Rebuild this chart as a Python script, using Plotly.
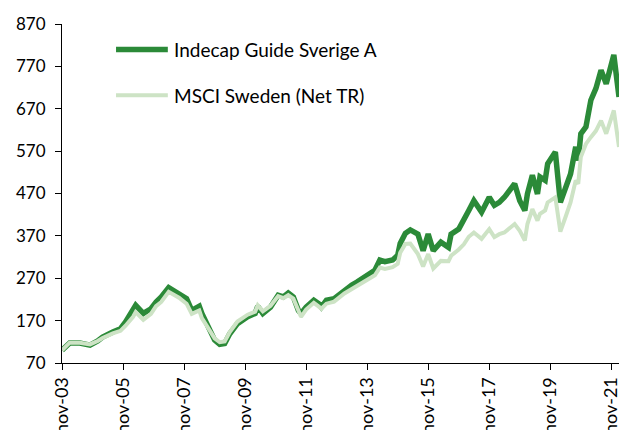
import plotly.graph_objects as go

dates = [
    "2003-11", "2004-02", "2004-06", "2004-10", "2005-01", "2005-03", "2005-07", "2005-10",
    "2005-12", "2006-03", "2006-04", "2006-07", "2006-10", "2006-12", "2007-02", "2007-05",
    "2007-09", "2007-12", "2008-02", "2008-05", "2008-06", "2008-08", "2008-11", "2009-01",
    "2009-03", "2009-05", "2009-08", "2009-12", "2010-03", "2010-04", "2010-06", "2010-09",
    "2010-12", "2011-02", "2011-04", "2011-06", "2011-08", "2011-09", "2011-11", "2012-02",
    "2012-04", "2012-05", "2012-07", "2012-10", "2013-02", "2013-05", "2013-07", "2013-09",
    "2013-12", "2014-02", "2014-04", "2014-06", "2014-09", "2014-11", "2014-12", "2015-02",
    "2015-04", "2015-07", "2015-09", "2015-11", "2016-01", "2016-04", "2016-07", "2016-08",
    "2016-11", "2017-01", "2017-03", "2017-05", "2017-08", "2017-11", "2018-01", "2018-03",
    "2018-05", "2018-09", "2018-11", "2019-01", "2019-02", "2019-04", "2019-06", "2019-07",
    "2019-09", "2019-10", "2020-01", "2020-03", "2020-05", "2020-07", "2020-09", "2020-10",
    "2020-11", "2021-01", "2021-03", "2021-05", "2021-07", "2021-09", "2021-12", "2022-02",
]

indecap = [
    100, 117, 117, 112, 122, 131, 143, 151,
    167, 194, 206, 187, 198, 214, 226, 248,
    234, 222, 194, 204, 187, 163, 124, 114,
    116, 139, 163, 179, 187, 204, 187, 202,
    230, 226, 235, 226, 194, 187, 202, 218,
    210, 202, 218, 222, 242, 254, 261, 269,
    281, 289, 313, 309, 313, 324, 352, 376,
    384, 374, 335, 374, 335, 355, 343, 374,
    386, 406, 430, 453, 426, 461, 442, 449,
    461, 493, 453, 430, 469, 513, 469, 509,
    501, 540, 568, 449, 485, 516, 580, 548,
    611, 627, 690, 718, 761, 729, 797, 698,
]

msci = [
    100, 118, 118, 114, 122, 129, 140, 146,
    158, 179, 190, 172, 186, 204, 214, 238,
    224, 210, 186, 194, 176, 156, 128, 119,
    121, 143, 168, 184, 191, 206, 192, 205,
    228, 223, 230, 222, 190, 179, 196, 212,
    203, 198, 210, 215, 234, 244, 252, 259,
    270, 277, 295, 292, 296, 304, 330, 351,
    352, 327, 298, 327, 293, 311, 310, 323,
    338, 350, 368, 378, 363, 386, 367, 374,
    378, 398, 382, 359, 398, 433, 406, 422,
    430, 449, 461, 380, 414, 449, 501, 493,
    556, 587, 603, 618, 642, 611, 666, 580,
]

series_names = ["Indecap Guide Sverige A", "MSCI Sweden (Net TR)"]
x_tick_vals = ["2003-11-01", "2005-11-01", "2007-11-01", "2009-11-01", "2011-11-01",
               "2013-11-01", "2015-11-01", "2017-11-01", "2019-11-01", "2021-11-01"]
x_tick_labels = ["nov-03", "nov-05", "nov-07", "nov-09", "nov-11",
                 "nov-13", "nov-15", "nov-17", "nov-19", "nov-21"]
y_ticks = [70, 170, 270, 370, 470, 570, 670, 770, 870]

DARK = "#2b8a38"
LIGHT = "#cde3c5"
FONT = "Lato"

fig = go.Figure()
fig.add_trace(go.Scatter(x=dates, y=indecap, mode="lines", name=series_names[0],
                         line=dict(color=DARK, width=5.5), showlegend=False,
                         hoverinfo="skip"))
fig.add_trace(go.Scatter(x=dates, y=msci, mode="lines", name=series_names[1],
                         line=dict(color=LIGHT, width=4), showlegend=False,
                         hoverinfo="skip"))

# manual legend
leg_x0, leg_x1, leg_tx = 0.097, 0.190, 0.197
for name, color, width, yy in [(series_names[0], DARK, 5.5, 0.925),
                               (series_names[1], LIGHT, 4, 0.790)]:
    fig.add_shape(type="line", xref="paper", yref="paper", x0=leg_x0, x1=leg_x1,
                  y0=yy, y1=yy, line=dict(color=color, width=width))
    fig.add_annotation(xref="paper", yref="paper", x=leg_tx, y=yy, text=name,
                       showarrow=False, xanchor="left", yanchor="middle",
                       font=dict(family=FONT, size=19, color="#000000"))

fig.update_layout(
    width=620, height=430,
    margin=dict(l=62, r=1, t=24, b=67),
    paper_bgcolor="white", plot_bgcolor="white",
    font=dict(family=FONT, size=17, color="#000000"),
    hovermode=False,
)
fig.update_xaxes(
    type="date", range=["2003-11-01", "2022-02-01"],
    tickmode="array", tickvals=x_tick_vals, ticktext=x_tick_labels,
    tickangle=-90, showgrid=False, zeroline=False,
    showline=True, linecolor="#000000", linewidth=1,
    ticks="outside", ticklen=6, tickcolor="#000000",
    tickfont=dict(family=FONT, size=18, color="#000000"), automargin=False,
    ticklabeloverflow="allow",
)
fig.update_yaxes(
    range=[70, 870], tickmode="array", tickvals=y_ticks,
    showgrid=False, zeroline=False,
    showline=True, linecolor="#000000", linewidth=1,
    ticks="outside", ticklen=6, tickcolor="#000000",
    tickfont=dict(family=FONT, size=17, color="#000000"), automargin=False,
    ticklabelstandoff=6, ticklabeloverflow="allow",
)

# remove the default 8px page margin so the figure fills the window exactly
fig.write_html("out.html", config={"displayModeBar": False, "staticPlot": True},
               post_script="document.body.style.margin='0';document.body.style.overflow='hidden';")
